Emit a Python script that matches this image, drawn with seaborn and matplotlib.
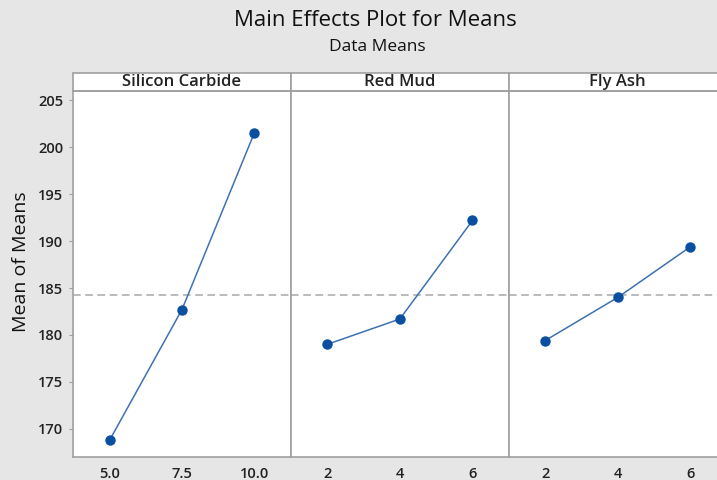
import numpy as np
import matplotlib.pyplot as plt
import seaborn as sns
import pandas as pd
from matplotlib.patches import Rectangle

# values
factors = ['Silicon Carbide', 'Red Mud', 'Fly Ash']
sic_levels = [5.0, 7.5, 10.0]
sic_means = [168.8, 182.7, 201.5]
redmud_levels = [2, 4, 6]
redmud_means = [179.0, 181.7, 192.2]
flyash_levels = [2, 4, 6]
flyash_means = [179.4, 184.0, 189.4]
grand_mean = 184.3
sic_ticklabels = ['5.0', '7.5', '10.0']
other_ticklabels = ['2', '4', '6']
y_ticks = [170, 175, 180, 185, 190, 195, 200, 205]

df = pd.concat([
    pd.DataFrame({'factor': factors[0], 'level': sic_levels, 'mean': sic_means}),
    pd.DataFrame({'factor': factors[1], 'level': redmud_levels, 'mean': redmud_means}),
    pd.DataFrame({'factor': factors[2], 'level': flyash_levels, 'mean': flyash_means}),
])

sns.set_style('white')
plt.rcParams['font.family'] = ['Open Sans', 'DejaVu Sans']

bg = '#e6e6e6'
edge = '#a0a0a0'
line_col = '#3f71b2'
dot_col = '#0a4fa0'

g = sns.FacetGrid(df, col='factor', col_order=factors, sharex=False, sharey=True,
                  despine=False, height=4, aspect=0.6)
g.figure.set_size_inches(7.17, 4.8)
g.figure.set_facecolor(bg)
g.map_dataframe(sns.lineplot, x='level', y='mean', marker='o', color=line_col,
                linewidth=1.1, markersize=7.5, markerfacecolor=dot_col,
                markeredgewidth=0)
g.figure.subplots_adjust(left=0.1018, right=1.0135, bottom=0.048, top=0.8104, wspace=0)

xlims = [(3.73, 11.27), (1, 7), (1, 7)]
xticks = [sic_levels, redmud_levels, flyash_levels]
xlabels = [sic_ticklabels, other_ticklabels, other_ticklabels]

for i, ax in enumerate(g.axes.flat):
    ax.set_facecolor('white')
    ax.axhline(grand_mean, color='#a8a8a8', linestyle=(0, (5, 3)), linewidth=1.1, zorder=1)
    ax.set_xlim(*xlims[i])
    ax.set_ylim(167.0, 206.0)
    ax.set_xticks(xticks[i])
    ax.set_xticklabels(xlabels[i], fontsize=10.5, fontweight='semibold', color='#222222')
    ax.set_title('')
    ax.set_xlabel('')
    ax.set_ylabel('')
    for s in ax.spines.values():
        s.set_color(edge)
        s.set_linewidth(1.2)
    ax.tick_params(axis='x', direction='out', length=3, color=edge, pad=4)
    if i == 0:
        ax.set_yticks(y_ticks)
        ax.set_yticklabels([str(v) for v in y_ticks], fontsize=10.5,
                           fontweight='semibold', color='#222222')
        ax.tick_params(axis='y', direction='out', length=3, color=edge, pad=4, left=True)
    else:
        ax.tick_params(axis='y', left=False)
    # strip header
    strip_h = 18 / (0.8104 - 0.048) / 480
    ax.add_patch(Rectangle((0, 1), 1, strip_h, transform=ax.transAxes, clip_on=False,
                           facecolor='white', edgecolor=edge, linewidth=1.2))
    ax.text(0.5, 1 + strip_h / 2, factors[i], transform=ax.transAxes, ha='center',
            va='center', fontsize=12, fontweight='semibold', color='#222222')

fig = g.figure
fig.text(375 / 717, 1 - 21 / 480, 'Main Effects Plot for Means', ha='center', va='center',
         fontsize=16, color='#111111')
fig.text(377 / 717, 1 - 47 / 480, 'Data Means', ha='center', va='center',
         fontsize=12.5, color='#111111')
fig.text(21 / 717, 1 - 262 / 480, 'Mean of Means', rotation=90, ha='center',
         va='center', fontsize=14, color='#111111')

fig.savefig('out.png', dpi=100, facecolor=bg)
